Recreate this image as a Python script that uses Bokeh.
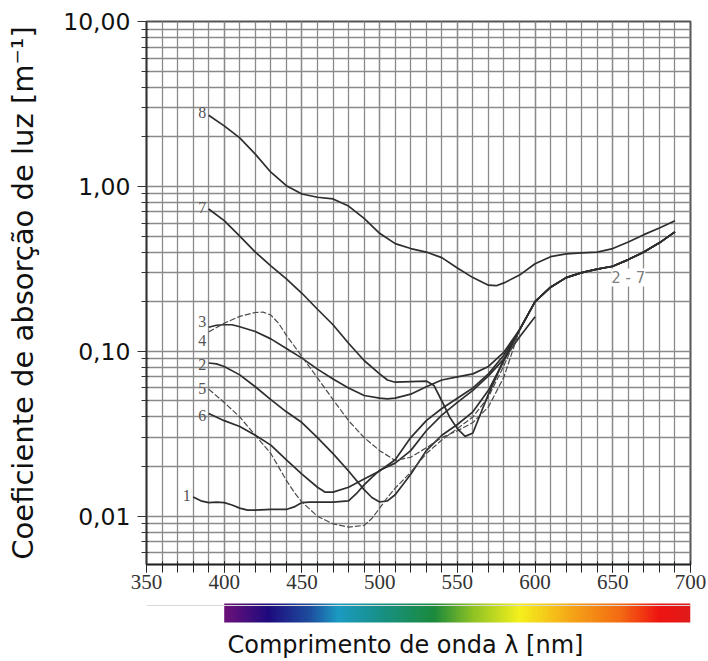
import numpy as np
from bokeh.plotting import figure
from bokeh.layouts import column
from bokeh.models import (Range1d, FixedTicker, CustomJSTickFormatter, Label,
                          ColumnDataSource, LinearColorMapper, Span)
from bokeh.core.properties import value
from bokeh.embed import file_html
from bokeh.resources import INLINE

# ---------------- data ----------------
wl_1 = [380, 385, 390, 395, 400, 405, 410, 415, 420, 430, 440, 445, 450, 455, 460, 470, 480, 485,
        490, 495, 500, 510, 520, 530, 540, 550, 560, 570, 580, 590, 600]
abs_1 = [0.0131, 0.0124, 0.0121, 0.0122, 0.0121, 0.0117, 0.0112, 0.0109, 0.0109, 0.0110, 0.0110,
         0.0114, 0.0121, 0.0122, 0.0122, 0.0122, 0.0124, 0.0137, 0.0155, 0.0172, 0.0190, 0.0210,
         0.0250, 0.0330, 0.0410, 0.0490, 0.0580, 0.0710, 0.0900, 0.1220, 0.1620]

wl_2 = [390, 395, 400, 410, 420, 430, 440, 450, 460, 470, 480, 490, 495, 500, 505, 510, 520, 530,
        540, 550, 560, 570, 580]
abs_2 = [0.085, 0.084, 0.081, 0.072, 0.061, 0.051, 0.043, 0.037, 0.030, 0.024, 0.0188, 0.0145,
         0.0130, 0.0122, 0.0124, 0.0135, 0.0180, 0.0250, 0.0310, 0.0360, 0.0430, 0.0580, 0.0880]

wl_3 = [390, 395, 400, 405, 410, 420, 430, 440, 450, 460, 470, 480, 490, 500, 505, 510, 520, 530,
        540, 550, 560, 570, 580]
abs_3 = [0.140, 0.144, 0.145, 0.145, 0.141, 0.132, 0.119, 0.104, 0.091, 0.078, 0.068, 0.060, 0.054,
         0.052, 0.0515, 0.052, 0.055, 0.061, 0.067, 0.070, 0.073, 0.081, 0.099]

wl_4 = [390, 400, 410, 420, 425, 430, 435, 440, 450, 460, 470, 480, 490, 500, 510, 520, 530, 540,
        550, 560, 570, 580]
abs_4 = [0.131, 0.148, 0.163, 0.172, 0.173, 0.166, 0.148, 0.125, 0.093, 0.069, 0.051, 0.038, 0.030,
         0.025, 0.0218, 0.0228, 0.026, 0.030, 0.033, 0.037, 0.046, 0.070]

wl_5 = [390, 400, 410, 420, 430, 440, 445, 450, 460, 470, 480, 490, 495, 500, 505, 510, 520, 530,
        540, 550, 560, 570, 580]
abs_5 = [0.059, 0.049, 0.040, 0.031, 0.024, 0.0165, 0.0140, 0.0122, 0.0100, 0.0090, 0.0086, 0.0088,
         0.0097, 0.0112, 0.0130, 0.0148, 0.0185, 0.024, 0.029, 0.034, 0.040, 0.053, 0.082]

wl_6 = [390, 400, 410, 420, 430, 440, 450, 460, 465, 470, 480, 490, 500, 510, 520, 530, 540, 550,
        560, 570, 580]
abs_6 = [0.042, 0.038, 0.035, 0.031, 0.027, 0.022, 0.018, 0.015, 0.014, 0.014, 0.0150, 0.0168,
         0.0188, 0.022, 0.030, 0.038, 0.045, 0.052, 0.060, 0.073, 0.095]

wl_7 = [390, 400, 410, 420, 430, 440, 450, 460, 470, 480, 490, 500, 505, 510, 520, 530, 535, 540,
        545, 550, 555, 560, 565, 570, 575, 580]
abs_7 = [0.73, 0.62, 0.50, 0.40, 0.33, 0.275, 0.225, 0.180, 0.145, 0.112, 0.088, 0.073, 0.067,
         0.065, 0.0655, 0.066, 0.062, 0.050, 0.040, 0.034, 0.0305, 0.032, 0.042, 0.055, 0.070, 0.090]

# common long-wave tail of curves 2 - 7
wl_tail = [590, 600, 610, 620, 630, 640, 650, 660, 670, 680, 690]
abs_tail = [0.135, 0.200, 0.245, 0.280, 0.300, 0.315, 0.328, 0.360, 0.400, 0.455, 0.530]

wl_8 = [390, 400, 410, 420, 430, 440, 450, 460, 470, 480, 490, 500, 510, 520, 530, 540, 550, 560,
        570, 575, 580, 590, 600, 610, 620, 630, 640, 650, 660, 670, 680, 690]
abs_8 = [2.70, 2.33, 1.97, 1.57, 1.22, 1.01, 0.90, 0.86, 0.84, 0.76, 0.64, 0.52, 0.45, 0.42, 0.40,
         0.37, 0.32, 0.28, 0.252, 0.250, 0.26, 0.29, 0.34, 0.375, 0.39, 0.395, 0.40, 0.42, 0.46,
         0.51, 0.56, 0.62]

curve_labels = ["8", "7", "3", "4", "2", "5", "6", "1"]
label_wl = [388.5, 388.5, 388.5, 388.5, 388.5, 388.5, 388.5, 378.5]
label_abs = [2.82, 0.75, 0.151, 0.117, 0.083, 0.0594, 0.041, 0.0134]
group_label = "2 - 7"
group_wl = 660
group_abs = 0.28

x_ticks = [350, 400, 450, 500, 550, 600, 650, 700]
x_minor = list(range(350, 701, 10))
y_ticks = [0.01, 0.1, 1.0, 10.0]
y_minor = [k * 10.0 ** d for d in (-3, -2, -1, 0) for k in range(2, 10)]

spectrum_wl = [400, 428, 455, 473, 500, 535, 560, 590, 625, 655, 680, 700]
spectrum_col = ["#6d1179", "#1e0a7e", "#1d4f9f", "#1b9ac2", "#179088", "#1b8a3c",
                "#8fc224", "#f4f11c", "#f5a117", "#f36a12", "#ef1412", "#e01a1a"]

x_title = "Comprimento de onda λ [nm]"
x_title_wl = 516.6
y_title = "Coeficiente de absorção de luz [m⁻¹]"

# ---------------- main chart ----------------
X0, X1 = 350, 700
W = 706
BL, BR = 146, 16
p = figure(width=W, height=598, x_range=Range1d(X0, X1), y_range=Range1d(0.0051, 10),
           y_axis_type="log", output_backend="svg", toolbar_location=None,
           min_border_left=BL, min_border_right=BR, min_border_top=21, min_border_bottom=34,
           background_fill_color="white", border_fill_color="white")

grid_col = "#8a8a8a"
for g in (p.xgrid, p.ygrid):
    g.grid_line_color = grid_col
    g.grid_line_width = 1.3
    g.minor_grid_line_color = grid_col
    g.minor_grid_line_width = 1.3

p.outline_line_color = "#555555"
p.outline_line_width = 2

xa = p.xaxis[0]
xa.ticker = FixedTicker(ticks=x_ticks, minor_ticks=x_minor)
xa.major_label_text_font = "Liberation Serif"
xa.major_label_text_font_size = "21px"
xa.major_label_text_color = "#333333"
xa.major_tick_in = 3
xa.major_tick_out = 8
xa.minor_tick_in = 3
xa.minor_tick_out = 8
xa.major_label_standoff = 2
xa.axis_line_width = 1.5
xa.axis_line_color = "#222222"
xa.major_tick_line_color = "#222222"
xa.minor_tick_line_color = "#222222"

ya = p.yaxis[0]
ya.ticker = FixedTicker(ticks=y_ticks, minor_ticks=y_minor)
ya.formatter = CustomJSTickFormatter(code="return tick.toFixed(2).replace('.', ',');")
ya.major_label_text_font = "DejaVu Sans"
ya.major_label_text_font_size = "23.5px"
ya.major_label_text_color = "#111111"
ya.major_tick_in = 0
ya.major_tick_out = 9
ya.minor_tick_in = 2
ya.minor_tick_out = 5
ya.major_label_standoff = 7
ya.axis_line_width = 1.5
ya.axis_line_color = "#333333"
ya.major_tick_line_color = "#333333"
ya.minor_tick_line_color = "#333333"
ya.axis_label = y_title
ya.axis_label_text_font = "DejaVu Sans"
ya.axis_label_text_font_size = "29px"
ya.axis_label_text_font_style = "normal"
ya.axis_label_text_color = "#111111"
ya.axis_label_standoff = 20

solid = dict(line_color="#2e2e2e", line_width=1.7)
dashed = dict(line_color="#4a4a4a", line_width=1.2, line_dash="6 2")

p.line(wl_1, abs_1, **solid)
for wl, ab, style in ((wl_2, abs_2, solid), (wl_3, abs_3, solid), (wl_4, abs_4, dashed),
                      (wl_5, abs_5, dashed), (wl_6, abs_6, solid), (wl_7, abs_7, solid)):
    p.line(wl + wl_tail, ab + abs_tail, **style)
p.line(wl_8, abs_8, **solid)

lab_src = ColumnDataSource(dict(x=label_wl, y=label_abs, t=curve_labels))
p.text(x="x", y="y", text="t", source=lab_src, text_align="right", text_baseline="middle",
       text_font=value("Liberation Serif"), text_font_size=value("16px"), text_color="#555555")

p.add_layout(Label(x=group_wl, y=group_abs, text=group_label, text_align="center",
                   text_baseline="middle", text_font="DejaVu Sans", text_font_size="15px",
                   text_color="#808080", background_fill_color="white",
                   background_fill_alpha=1.0))

# ---------------- spectrum strip + x title ----------------
H2 = 62
q = figure(width=W, height=H2, output_backend="svg", toolbar_location=None,
           x_range=p.x_range, y_range=Range1d(0, H2),
           min_border_left=BL, min_border_right=BR, min_border_top=0, min_border_bottom=0,
           x_axis_type=None, y_axis_type=None,
           background_fill_color="white", border_fill_color="white")
q.grid.visible = False
q.outline_line_color = None
q.add_layout(Span(location=55, dimension="width", line_color="#d8d8d8", line_width=1))

# colour ramp between the named stops
ramp_x = np.arange(spectrum_wl[0], spectrum_wl[-1] + 1)
rgb = np.array([[int(c[i:i + 2], 16) for i in (1, 3, 5)] for c in spectrum_col], dtype=float)
ramp = ["#%02x%02x%02x" % tuple(int(round(np.interp(w, spectrum_wl, rgb[:, k]))) for k in range(3))
        for w in ramp_x]
mapper = LinearColorMapper(palette=ramp, low=spectrum_wl[0], high=spectrum_wl[-1])
q.image(image=[np.array([ramp_x], dtype=float)], x=spectrum_wl[0], y=38,
        dw=spectrum_wl[-1] - spectrum_wl[0], dh=19, color_mapper=mapper)

q.text(x=[x_title_wl], y=[16], text=[x_title], text_align="center", text_baseline="middle",
       text_font=value("DejaVu Sans"), text_font_size=value("24px"), text_color="#111111")

layout = column(p, q, spacing=0)
open("out.html", "w").write(file_html(layout, INLINE))
